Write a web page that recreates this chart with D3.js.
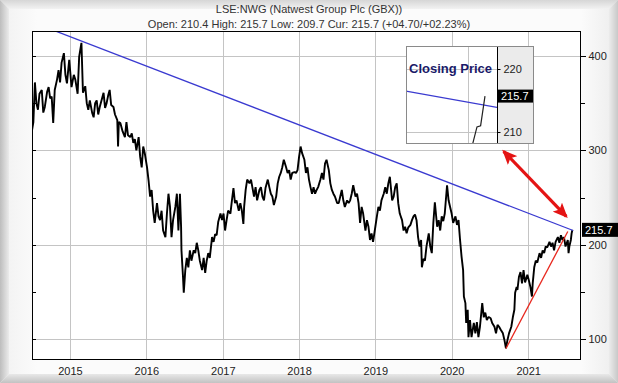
<!DOCTYPE html>
<html lang="en">
<head>
<meta charset="UTF-8">
<title>LSE:NWG (Natwest Group Plc (GBX))</title>
<script src="https://cdn.jsdelivr.net/npm/d3@7.9.0/dist/d3.min.js"></script>
<style>
  body { margin: 0; background: #fff; overflow: hidden; }
  svg { display: block; font-family: "Liberation Sans", Arial, sans-serif; }
  .axis text { font-size: 11px; fill: #222; }
  .axis line { stroke: #000; }
  .grid line { stroke: #c4c4c4; shape-rendering: crispEdges; }
</style>
</head>
<body>
<svg id="chart" width="618" height="383"></svg>
<script>
// --- data (decimal year, close in GBX) ---
const titleText = "LSE:NWG (Natwest Group Plc (GBX))";
const quoteText = "Open: 210.4 High: 215.7 Low: 209.7 Cur: 215.7 (+04.70/+02.23%)";
const lastClose = 215.7;

const closes = [
  [2014.50,320],[2014.52,330],[2014.54,372],[2014.56,350],[2014.58,343],[2014.60,360],[2014.63,364],
  [2014.65,340],[2014.67,346],[2014.70,362],[2014.72,367],[2014.74,355],[2014.76,357],[2014.78,329],
  [2014.80,364],[2014.83,375],[2014.85,385],[2014.87,372],[2014.89,393],[2014.92,403],[2014.94,380],
  [2014.96,371],[2014.98,388],[2014.99,396],[2015.02,367],[2015.05,380],[2015.07,375],[2015.10,360],
  [2015.12,399],[2015.15,414],[2015.17,361],[2015.20,368],[2015.22,350],[2015.24,343],[2015.26,353],
  [2015.29,340],[2015.31,335],[2015.33,350],[2015.35,353],[2015.37,338],[2015.39,346],[2015.42,355],
  [2015.44,361],[2015.46,345],[2015.48,350],[2015.50,358],[2015.52,364],[2015.54,348],[2015.57,346],
  [2015.59,338],[2015.62,332],[2015.63,304],[2015.64,330],[2015.66,329],[2015.69,320],[2015.72,314],
  [2015.74,330],[2015.76,316],[2015.79,314],[2015.81,318],[2015.83,308],[2015.85,312],[2015.87,300],
  [2015.90,314],[2015.92,293],[2015.94,282],[2015.96,304],[2015.98,297],[2016.01,282],[2016.03,268],
  [2016.05,251],[2016.07,258],[2016.09,236],[2016.11,223],[2016.14,244],[2016.16,230],[2016.18,226],
  [2016.20,236],[2016.22,215],[2016.25,208],[2016.27,233],[2016.29,254],[2016.31,240],[2016.33,208],
  [2016.35,226],[2016.38,240],[2016.40,254],[2016.42,215],[2016.44,254],[2016.455,219],[2016.46,194],
  [2016.48,166],[2016.49,149],[2016.51,173],[2016.53,186],[2016.55,176],[2016.57,194],[2016.59,183],
  [2016.62,194],[2016.64,191],[2016.66,202],[2016.68,194],[2016.70,183],[2016.73,173],[2016.75,186],
  [2016.77,170],[2016.79,183],[2016.81,191],[2016.83,186],[2016.86,208],[2016.88,203],[2016.90,211],
  [2016.92,210],[2016.94,224],[2016.97,233],[2016.99,226],[2017.01,233],[2017.03,215],[2017.05,226],
  [2017.07,236],[2017.10,233],[2017.12,247],[2017.14,260],[2017.16,244],[2017.18,247],[2017.21,236],
  [2017.23,244],[2017.25,236],[2017.27,222],[2017.28,240],[2017.30,258],[2017.32,269],[2017.35,265],
  [2017.37,269],[2017.39,260],[2017.41,251],[2017.43,261],[2017.45,247],[2017.48,258],[2017.50,261],
  [2017.52,251],[2017.54,247],[2017.56,260],[2017.59,269],[2017.61,261],[2017.63,254],[2017.65,251],
  [2017.67,242],[2017.70,251],[2017.72,265],[2017.74,272],[2017.76,276],[2017.78,282],[2017.80,290],
  [2017.83,282],[2017.85,276],[2017.87,279],[2017.89,269],[2017.91,276],[2017.94,277],[2017.96,276],
  [2017.98,279],[2018.00,293],[2018.02,304],[2018.04,297],[2018.07,290],[2018.09,276],[2018.11,282],
  [2018.13,269],[2018.15,261],[2018.17,254],[2018.19,261],[2018.21,254],[2018.23,258],[2018.25,261],
  [2018.28,269],[2018.30,276],[2018.32,269],[2018.34,286],[2018.36,290],[2018.39,279],[2018.41,265],
  [2018.43,258],[2018.45,254],[2018.47,251],[2018.50,244],[2018.52,244],[2018.54,251],[2018.56,258],
  [2018.58,247],[2018.60,240],[2018.63,247],[2018.65,244],[2018.67,247],[2018.69,254],[2018.71,263],
  [2018.74,251],[2018.76,254],[2018.78,244],[2018.80,223],[2018.82,240],[2018.84,233],[2018.87,215],
  [2018.89,226],[2018.91,219],[2018.93,205],[2018.95,212],[2018.97,203],[2019.00,219],[2019.02,230],
  [2019.04,240],[2019.06,236],[2019.08,247],[2019.11,254],[2019.13,261],[2019.15,254],[2019.17,265],
  [2019.19,272],[2019.22,247],[2019.24,251],[2019.26,261],[2019.28,265],[2019.30,244],[2019.32,233],
  [2019.35,226],[2019.37,215],[2019.39,219],[2019.41,212],[2019.43,218],[2019.46,221],[2019.48,226],
  [2019.50,230],[2019.52,232],[2019.54,226],[2019.56,208],[2019.58,198],[2019.60,205],[2019.61,176],
  [2019.63,185],[2019.65,183],[2019.67,198],[2019.70,212],[2019.72,198],[2019.74,191],[2019.76,223],
  [2019.78,245],[2019.81,219],[2019.83,226],[2019.85,215],[2019.87,230],[2019.89,225],[2019.91,233],
  [2019.94,263],[2019.96,247],[2019.98,240],[2020.00,233],[2020.02,223],[2020.05,230],[2020.07,221],
  [2020.09,226],[2020.11,205],[2020.13,187],[2020.15,173],[2020.16,145],[2020.18,138],[2020.19,117],
  [2020.21,131],[2020.22,102],[2020.24,120],[2020.26,102],[2020.29,117],[2020.31,106],[2020.33,118],
  [2020.35,102],[2020.37,113],[2020.40,138],[2020.42,123],[2020.44,128],[2020.46,120],[2020.48,123],
  [2020.49,123],[2020.51,122],[2020.53,117],[2020.56,113],[2020.58,106],[2020.60,115],[2020.62,113],
  [2020.64,110],[2020.67,106],[2020.69,99],[2020.71,90],[2020.73,99],[2020.75,106],[2020.78,113],
  [2020.80,123],[2020.82,131],[2020.83,149],[2020.85,155],[2020.86,152],[2020.88,166],[2020.90,171],
  [2020.92,159],[2020.94,173],[2020.96,160],[2020.99,168],[2021.01,162],[2021.03,155],[2021.05,145],
  [2021.06,159],[2021.08,176],[2021.10,183],[2021.12,181],[2021.15,191],[2021.17,186],[2021.19,194],
  [2021.21,191],[2021.23,198],[2021.25,197],[2021.28,203],[2021.30,198],[2021.32,202],[2021.34,194],
  [2021.36,203],[2021.39,208],[2021.41,202],[2021.43,210],[2021.45,205],[2021.47,208],[2021.49,198],
  [2021.52,205],[2021.53,191],[2021.54,198],[2021.56,205],[2021.57,212],[2021.58,215.7]
];

const resistanceLine = [[2014.76, 428], [2021.59, 215]];
const supportLine = [[2020.71, 90], [2021.52, 214]];
const arrowEnds = [[2020.68, 299], [2021.50, 230]];

const yMajor = [100, 200, 300, 400];
const yMinor = [150, 250, 350];
const xStart = 2014.502, xEnd = 2021.693;

// inset: last few sessions, x in trading-day units
const insetCloses = [[17.6, 206.5], [19.5, 210.8], [20.5, 211.0], [21.7, 215.7]];
const insetTrend = [[0, 216.5], [25, 213.9]];
const insetTicks = [210, 220];
const insetGridX = [17];

// --- helpers ---
function fromDecimal(v) {
    const yr = Math.floor(v);
    const s = Date.UTC(yr, 0, 1), e = Date.UTC(yr + 1, 0, 1);
    return new Date(s + (v - yr) * (e - s));
}

const W = 618, H = 383;
const plot = { left: 32, right: 581, top: 31, bottom: 360 };

const svg = d3.select("#chart");
const defs = svg.append("defs");

function linGrad(id, x1, y1, x2, y2, stops) {
    const g = defs.append("linearGradient").attr("id", id)
        .attr("x1", x1).attr("y1", y1).attr("x2", x2).attr("y2", y2);
    stops.forEach(s => g.append("stop").attr("offset", s[0]).attr("stop-color", s[1]));
}
linGrad("gLeft", 0, 0, 1, 0, [[0, "#bdbdbd"], [1, "#ebebeb"]]);
linGrad("gRight", 0, 0, 1, 0, [[0, "#ececec"], [1, "#c8c8c8"]]);
linGrad("gBottom", 0, 0, 0, 1, [[0, "#e8e8e8"], [1, "#c2c2c2"]]);
linGrad("gTop", 0, 0, 0, 1, [[0, "#d6d6d6"], [1, "#f2f2f2"]]);
linGrad("gInner", 0, 0, 1, 0, [[0, "#f1f1f1"], [0.06, "#fbfbfb"], [0.94, "#fbfbfb"], [1, "#ececec"]]);

defs.append("clipPath").attr("id", "plotClip").append("rect")
    .attr("x", plot.left).attr("y", plot.top)
    .attr("width", plot.right - plot.left).attr("height", plot.bottom - plot.top);

// --- frame ---
const fw = 9;
svg.append("rect").attr("width", W).attr("height", H).attr("fill", "url(#gInner)");
svg.append("path").attr("d", `M0,0L${W},0L${W - fw},${fw}L${fw},${fw}Z`).attr("fill", "url(#gTop)");
svg.append("path").attr("d", `M0,0L${fw},${fw}L${fw},${H - fw}L0,${H}Z`).attr("fill", "url(#gLeft)");
svg.append("path").attr("d", `M${W},0L${W},${H}L${W - fw},${H - fw}L${W - fw},${fw}Z`).attr("fill", "url(#gRight)");
svg.append("path").attr("d", `M0,${H}L${fw},${H - fw}L${W - fw},${H - fw}L${W},${H}Z`).attr("fill", "url(#gBottom)");

// --- titles ---
svg.append("text").attr("x", W / 2).attr("y", 12.5).attr("text-anchor", "middle")
    .attr("font-size", 11).attr("fill", "#333").text(titleText);
svg.append("text").attr("x", W / 2).attr("y", 27.5).attr("text-anchor", "middle")
    .attr("font-size", 11).attr("fill", "#333").text(quoteText);

// --- scales ---
const x = d3.scaleUtc().domain([fromDecimal(xStart), fromDecimal(xEnd)]).range([plot.left, plot.right]);
const y = d3.scaleLinear().domain([100, 400]).range([339, 56]);

svg.append("rect").attr("x", plot.left).attr("y", plot.top)
    .attr("width", plot.right - plot.left).attr("height", plot.bottom - plot.top).attr("fill", "#fff");

// gridlines
const years = d3.utcYear.range(fromDecimal(xStart), fromDecimal(xEnd));
const grid = svg.append("g").attr("class", "grid");
grid.selectAll(".gx").data(years).join("line").attr("class", "gx")
    .attr("x1", d => Math.round(x(d)) + 0.5).attr("x2", d => Math.round(x(d)) + 0.5)
    .attr("y1", plot.top).attr("y2", plot.bottom);
grid.selectAll(".gy").data(yMajor).join("line").attr("class", "gy")
    .attr("x1", plot.left).attr("x2", plot.right)
    .attr("y1", d => Math.round(y(d)) + 0.5).attr("y2", d => Math.round(y(d)) + 0.5);

// price series
const lineGen = d3.line().x(d => x(fromDecimal(d[0]))).y(d => y(d[1]));
const clipped = svg.append("g").attr("clip-path", "url(#plotClip)");
clipped.append("path").datum(closes).attr("d", lineGen)
    .attr("fill", "none").attr("stroke", "#000").attr("stroke-width", 1.9).attr("stroke-linejoin", "bevel");

clipped.append("path").datum(resistanceLine).attr("d", lineGen)
    .attr("fill", "none").attr("stroke", "#3a3ad0").attr("stroke-width", 1.3);
clipped.append("path").datum(supportLine).attr("d", lineGen)
    .attr("fill", "none").attr("stroke", "#e8281e").attr("stroke-width", 1.3);

// plot border
svg.append("rect").attr("x", plot.left + 0.5).attr("y", plot.top + 0.5)
    .attr("width", plot.right - plot.left - 1).attr("height", plot.bottom - plot.top - 1)
    .attr("fill", "none").attr("stroke", "#000").attr("shape-rendering", "crispEdges");

// right axis
const rAxis = svg.append("g").attr("class", "axis").attr("transform", `translate(${plot.right - 0.5},0)`)
    .call(d3.axisRight(y).tickValues(yMajor).tickSize(5).tickPadding(3).tickFormat(d3.format("d")));
rAxis.select(".domain").remove();
rAxis.selectAll(".tick line").attr("shape-rendering", "crispEdges");
svg.append("g").selectAll("line").data(yMinor).join("line")
    .attr("x1", plot.right).attr("x2", plot.right + 4)
    .attr("y1", d => Math.round(y(d)) + 0.5).attr("y2", d => Math.round(y(d)) + 0.5)
    .attr("stroke", "#000").attr("shape-rendering", "crispEdges");

// left inward ticks
svg.append("g").selectAll("line").data(yMajor.concat(yMinor)).join("line")
    .attr("x1", plot.left).attr("x2", plot.left + 4)
    .attr("y1", d => Math.round(y(d)) + 0.5).attr("y2", d => Math.round(y(d)) + 0.5)
    .attr("stroke", "#000").attr("shape-rendering", "crispEdges");

// bottom axis labels
const bAxis = svg.append("g").attr("class", "axis").attr("transform", `translate(0,${plot.bottom})`)
    .call(d3.axisBottom(x).tickValues(years).tickSize(0).tickPadding(7).tickFormat(d3.utcFormat("%Y")));
bAxis.select(".domain").remove();

// current price tag
const yc = y(lastClose);
svg.append("rect").attr("x", plot.right + 1).attr("y", yc - 7).attr("width", W - plot.right - 1).attr("height", 14).attr("fill", "#000");
svg.append("text").attr("x", plot.right + 4).attr("y", yc + 4).attr("font-size", 11).attr("fill", "#fff").text(lastClose.toFixed(1));

// double arrow
["arrowEnd", "arrowStart"].forEach((id, i) => {
    defs.append("marker").attr("id", id)
        .attr("viewBox", "0 -6 14 12").attr("refX", 12).attr("refY", 0)
        .attr("markerWidth", 15).attr("markerHeight", 13).attr("markerUnits", "userSpaceOnUse")
        .attr("orient", i === 0 ? "auto" : "auto-start-reverse")
        .append("path").attr("d", "M0,-6L14,0L0,6L3,0Z").attr("fill", "#e41414");
});
svg.append("line")
    .attr("x1", x(fromDecimal(arrowEnds[0][0]))).attr("y1", y(arrowEnds[0][1]))
    .attr("x2", x(fromDecimal(arrowEnds[1][0]))).attr("y2", y(arrowEnds[1][1]))
    .attr("stroke", "#e41414").attr("stroke-width", 3.2)
    .attr("marker-start", "url(#arrowStart)").attr("marker-end", "url(#arrowEnd)");

// --- inset ---
const inset = { left: 406, right: 497, panel: 533.5, top: 46, bottom: 144 };
const ix = d3.scaleLinear().domain([0, 25]).range([inset.left, inset.right]);
const iy = d3.scaleLinear().domain([210, 220]).range([132, 69]);
defs.append("clipPath").attr("id", "insetClip").append("rect")
    .attr("x", inset.left).attr("y", inset.top).attr("width", inset.right - inset.left).attr("height", inset.bottom - inset.top);

const ig = svg.append("g");
ig.append("rect").attr("x", inset.left).attr("y", inset.top)
    .attr("width", inset.right - inset.left).attr("height", inset.bottom - inset.top).attr("fill", "#fff");
ig.append("rect").attr("x", inset.right).attr("y", inset.top)
    .attr("width", inset.panel - inset.right).attr("height", inset.bottom - inset.top).attr("fill", "#ebebeb");
ig.selectAll(".igy").data(insetTicks).join("line").attr("class", "igy")
    .attr("x1", inset.left).attr("x2", inset.right)
    .attr("y1", d => Math.round(iy(d)) + 0.5).attr("y2", d => Math.round(iy(d)) + 0.5)
    .attr("stroke", "#c4c4c4").attr("shape-rendering", "crispEdges");
ig.selectAll(".igx").data(insetGridX).join("line").attr("class", "igx")
    .attr("x1", d => Math.round(ix(d)) + 0.5).attr("x2", d => Math.round(ix(d)) + 0.5)
    .attr("y1", inset.top).attr("y2", inset.bottom)
    .attr("stroke", "#c4c4c4").attr("shape-rendering", "crispEdges");

ig.append("text").attr("x", 409).attr("y", 72.5).attr("font-size", 13).attr("font-weight", "bold")
    .attr("fill", "#1a1a68").text("Closing Price");

const iline = d3.line().x(d => ix(d[0])).y(d => iy(d[1]));
const ic = ig.append("g").attr("clip-path", "url(#insetClip)");
ic.append("path").datum(insetTrend).attr("d", iline).attr("fill", "none").attr("stroke", "#3a3ad0").attr("stroke-width", 1.3);
ic.append("path").datum(insetCloses).attr("d", iline).attr("fill", "none").attr("stroke", "#222").attr("stroke-width", 1.2);

const iAxis = ig.append("g").attr("class", "axis").attr("transform", `translate(${inset.right + 0.5},0)`)
    .call(d3.axisRight(iy).tickValues(insetTicks).tickSize(3).tickPadding(3).tickFormat(d3.format("d")));
iAxis.select(".domain").remove();
ig.append("line").attr("x1", inset.right + 0.5).attr("x2", inset.right + 0.5)
    .attr("y1", inset.top).attr("y2", inset.bottom).attr("stroke", "#000");
ig.append("rect").attr("x", inset.right + 1).attr("y", iy(lastClose) - 6.5)
    .attr("width", inset.panel - inset.right - 1).attr("height", 13).attr("fill", "#000");
ig.append("text").attr("x", inset.right + 4).attr("y", iy(lastClose) + 4).attr("font-size", 11)
    .attr("fill", "#fff").text(lastClose.toFixed(1));
ig.append("rect").attr("x", inset.left + 0.5).attr("y", inset.top + 0.5)
    .attr("width", inset.panel - inset.left - 1).attr("height", inset.bottom - inset.top - 1)
    .attr("fill", "none").attr("stroke", "#8a8a8a").attr("shape-rendering", "crispEdges");
</script>
</body>
</html>
